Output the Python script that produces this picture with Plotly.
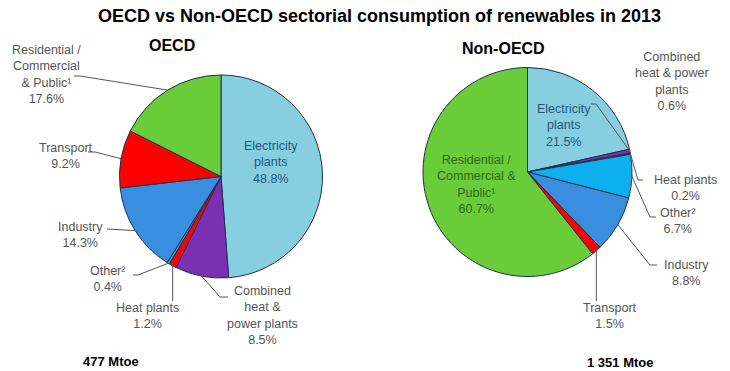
import math
import plotly.graph_objects as go

W, H = 730, 371

# ---------------- data ----------------
sectors = ["Electricity plants", "Combined heat & power plants", "Heat plants",
           "Other²", "Industry", "Transport", "Residential / Commercial & Public¹"]
oecd_share = [48.8, 8.5, 1.2, 0.4, 14.3, 9.2, 17.6]
non_oecd_share = [21.5, 0.6, 0.2, 6.7, 8.8, 1.5, 60.7]
oecd_total = "477 Mtoe"
non_oecd_total = "1 351 Mtoe"
title_text = "OECD vs Non-OECD sectorial consumption of renewables in 2013"

# ---------------- styles ----------------
colors = ["#86CEE0", "#7B2FB2", "#FF0000", "#0CB0EE", "#3A8EDF", "#FF0000", "#69CC38"]
edge_col = "#1F3050"
label_col = "#555555"
FONT = "Liberation Sans, Arial, sans-serif"
LBL = 12.5


def pxx(x):
    return x / W


def pxy(y):
    return 1 - y / H


# pie boxes in pixels (left, top, right, bottom)
boxes = {
    "oecd": (119, 75, 323, 278),
    "non": (423, 67, 632, 277),
}

fig = go.Figure()
for key, vals in (("oecd", oecd_share), ("non", non_oecd_share)):
    l, t, r, b = boxes[key]
    fig.add_trace(go.Pie(
        values=vals, labels=sectors, sort=False, direction="clockwise", rotation=0,
        marker=dict(colors=colors, line=dict(color=edge_col, width=1)),
        textinfo="none", hoverinfo="label+percent", showlegend=False,
        domain=dict(x=[pxx(l), pxx(r)], y=[pxy(b), pxy(t)]),
    ))


def edge_point(key, vals, idx):
    l, t, r, b = boxes[key]
    cx, cy = (l + r) / 2, (t + b) / 2
    rad = min(r - l, b - t) / 2
    tot = sum(vals)
    start = sum(vals[:idx])
    mid = (start + vals[idx] / 2) / tot * 2 * math.pi
    return cx + rad * math.sin(mid), cy - rad * math.cos(mid)


annotations = []
shapes = []


def add_text(x, y, text, color=label_col, size=LBL, bold=False):
    if bold:
        text = "<b>" + text + "</b>"
    annotations.append(dict(x=pxx(x), y=pxy(y), xref="paper", yref="paper",
                            text=text, showarrow=False, xanchor="center", yanchor="middle",
                            align="center", font=dict(family=FONT, size=size, color=color)))


def add_leader(points):
    d = "M " + " L ".join(f"{pxx(x):.5f},{pxy(y):.5f}" for x, y in points)
    shapes.append(dict(type="path", path=d, xref="paper", yref="paper",
                       line=dict(color=label_col, width=1)))


def pct(v):
    return f"{v:.1f}%"


# title and subtitles
add_text(379, 16, title_text, color="#000000", size=18, bold=True)
add_text(172, 46, "OECD", color="#000000", size=16, bold=True)
add_text(503, 48, "Non-OECD", color="#000000", size=16, bold=True)
add_text(111, 361, oecd_total, color="#000000", size=13, bold=True)
add_text(620, 362, non_oecd_total, color="#000000", size=13, bold=True)

# ---------- OECD labels ----------
o = oecd_share
add_text(271, 162, "Electricity<br>plants<br>" + pct(o[0]), color="#1D5A78")
add_text(46, 75, "Residential /<br>Commercial<br>& Public¹<br>" + pct(o[6]))
add_leader([(74, 76), (80, 76), edge_point("oecd", o, 6)])
add_text(66, 156, "Transport<br>" + pct(o[5]))
add_leader([(88, 152), (95, 152), edge_point("oecd", o, 5)])
add_text(80, 235, "Industry<br>" + pct(o[4]))
add_leader([(107, 229), edge_point("oecd", o, 4)])
add_text(107, 279, "Other²<br>" + pct(o[3]))
add_leader([(133, 275), (138, 275), edge_point("oecd", o, 3)])
add_text(147, 316, "Heat plants<br>" + pct(o[2]))
ex, ey = edge_point("oecd", o, 2)
add_leader([(ex, ey), (ex, 301)])
add_text(262, 315, "Combined<br>heat &<br>power plants<br>" + pct(o[1]))
add_leader([edge_point("oecd", o, 1), (220, 297), (228, 297)])

# ---------- Non-OECD labels ----------
n = non_oecd_share
add_text(564, 125, "Electricity<br>plants<br>" + pct(n[0]), color="#1D5A78")
add_text(476, 184, "Residential /<br>Commercial &<br>Public¹<br>" + pct(n[6]), color="#2A6B1A")
add_text(672, 81, "Combined<br>heat & power<br>plants<br>" + pct(n[1]))
add_leader([edge_point("non", n, 1), (596, 104), (591, 104)])
add_text(685, 188, "Heat plants<br>" + pct(n[2]))
add_leader([edge_point("non", n, 2), (638, 180), (643, 180)])
add_text(677, 221, "Other²<br>" + pct(n[3]))
add_leader([edge_point("non", n, 3), (650, 217), (656, 217)])
add_text(686, 273, "Industry<br>" + pct(n[4]))
add_leader([edge_point("non", n, 4), (650, 265), (657, 265)])
add_text(610, 316, "Transport<br>" + pct(n[5]))
ex, ey = edge_point("non", n, 5)
add_leader([(ex, ey), (ex, 301)])

fig.update_layout(
    width=W, height=H, margin=dict(l=0, r=0, t=0, b=0),
    paper_bgcolor="white", plot_bgcolor="white",
    annotations=annotations, shapes=shapes, showlegend=False,
    font=dict(family=FONT),
)

fig.write_html("out.html")
